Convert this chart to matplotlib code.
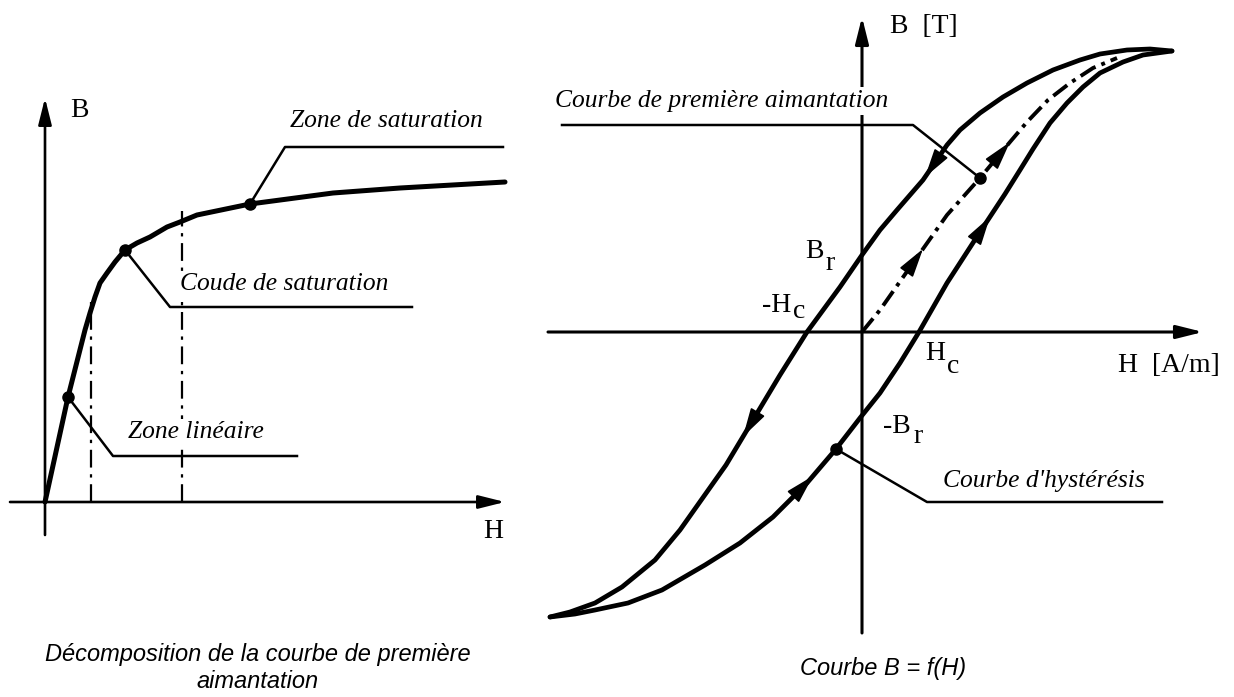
import numpy as np
import matplotlib
matplotlib.use("Agg")
import matplotlib.pyplot as plt

# ---------------- first magnetization curve (left sketch) ----------------
H_first = [0.00, 0.23, 0.40, 0.45, 0.50, 0.55, 0.62, 0.70, 0.80, 0.92,
           1.05, 1.22, 1.35, 1.52, 2.05, 2.88, 3.55, 4.60]
B_first = [0.00, 1.05, 1.72, 1.89, 2.05, 2.19, 2.29, 2.40, 2.52, 2.59,
           2.65, 2.75, 2.80, 2.87, 2.98, 3.09, 3.14, 3.20]
first_dots = [1, 8, 14]          # linear zone, knee, saturation
zone_limits = [0.46, 1.37]       # dash-dot separators

# ---------------- hysteresis loop (right sketch) ----------------
H_down = [3.10, 2.88, 2.65, 2.38, 2.18, 1.91, 1.65, 1.41, 1.18, 0.98, 0.85,
          0.61, 0.35, 0.18, 0.00, -0.22, -0.55, -0.82, -1.09, -1.36, -1.82,
          -2.07, -2.40, -2.67, -2.92, -3.12]
B_down = [2.81, 2.83, 2.82, 2.78, 2.72, 2.62, 2.49, 2.35, 2.19, 2.02, 1.87,
          1.52, 1.22, 1.02, 0.77, 0.45, 0.00, -0.43, -0.88, -1.33, -1.98,
          -2.28, -2.55, -2.71, -2.80, -2.85]
H_up = [-3.12, -2.87, -2.67, -2.34, -2.00, -1.57, -1.22, -0.89, -0.55, -0.26,
        -0.02, 0.18, 0.38, 0.57, 0.85, 1.18, 1.43, 1.58, 1.71, 1.88, 2.05,
        2.21, 2.38, 2.61, 2.81, 3.10]
B_up = [-2.85, -2.82, -2.78, -2.71, -2.58, -2.33, -2.11, -1.85, -1.51, -1.17,
        -0.86, -0.61, -0.31, 0.00, 0.49, 1.00, 1.38, 1.62, 1.83, 2.09, 2.29,
        2.45, 2.59, 2.70, 2.77, 2.81]
H_init = [0.00, 0.18, 0.51, 0.85, 1.18, 1.48, 1.65, 1.86, 2.08, 2.31, 2.55]
B_init = [0.00, 0.22, 0.69, 1.17, 1.54, 1.90, 2.10, 2.32, 2.49, 2.64, 2.74]
init_dot = 4
up_dot = 9

SERIF = "Liberation Serif"
SANS = "Liberation Sans"
LBL = 20      # axis letters
ANN = 18.4    # italic callouts
CAP = 17      # captions
WHITE = dict(facecolor="white", edgecolor="none", pad=1.5)


def axis_arrow(ax, start, tip, lw):
    ax.annotate("", xy=tip, xytext=start,
                arrowprops=dict(arrowstyle="-|>,head_length=1.6,head_width=0.4",
                                mutation_scale=10, lw=lw, color="k",
                                shrinkA=0, shrinkB=0))


def arrow_along(ax, H, B, h_tip, h_tail):
    # arrowhead sitting on a branch, pointing from h_tail towards h_tip
    order = np.argsort(H)
    hs = np.asarray(H)[order]
    bs = np.asarray(B)[order]
    tip = (h_tip, np.interp(h_tip, hs, bs))
    tail = (h_tail, np.interp(h_tail, hs, bs))
    ax.annotate("", xy=tip, xytext=tail,
                arrowprops=dict(arrowstyle="-|>,head_length=1.8,head_width=0.5",
                                mutation_scale=10, lw=1.2, color="k",
                                shrinkA=0, shrinkB=0))


fig = plt.figure(figsize=(12.34, 6.97), dpi=100)

# ---------------- left: decomposition of the first magnetization curve ----------------
axl = fig.add_axes([0, 0, 1, 1])
axl.set_xlim(-0.45, 11.89)
axl.set_ylim(-1.95, 5.02)
axl.axis("off")

axis_arrow(axl, (-0.35, 0), (4.60, 0), 1.9)
axis_arrow(axl, (0, -0.33), (0, 4.04), 1.9)

axl.plot(H_first, B_first, color="k", lw=3.6, solid_capstyle="round",
         solid_joinstyle="round")
for i in first_dots:
    axl.plot(H_first[i], B_first[i], "o", color="k", ms=8)

for h in zone_limits:
    top = np.interp(h, H_first, B_first)
    axl.plot([h, h], [0, top + 0.1], color="k", lw=1.6,
             linestyle=(0, (8, 3, 1.5, 3)))

# callout leaders
axl.plot([2.05, 2.40, 4.58], [2.98, 3.55, 3.55], color="k", lw=1.8)
axl.plot([0.80, 1.25, 3.67], [2.52, 1.95, 1.95], color="k", lw=1.8)
axl.plot([0.23, 0.68, 2.52], [1.05, 0.46, 0.46], color="k", lw=1.8)

axl.text(2.45, 3.75, "Zone de saturation", family=SERIF, style="italic",
         fontsize=ANN, va="baseline", zorder=5, bbox=WHITE)
axl.text(1.35, 2.12, "Coude de saturation", family=SERIF, style="italic",
         fontsize=ANN, va="baseline", zorder=5, bbox=WHITE)
axl.text(0.83, 0.64, "Zone linéaire", family=SERIF, style="italic",
         fontsize=ANN, va="baseline", zorder=5, bbox=WHITE)
axl.text(0.25, 3.85, "B", family=SERIF, fontsize=LBL, va="baseline")
axl.text(4.38, -0.36, "H", family=SERIF, fontsize=LBL, va="baseline")

axl.text(2.13, -1.66, "Décomposition de la courbe de première\naimantation",
         family=SANS, style="italic", fontsize=CAP, ha="center", va="center",
         multialignment="center", linespacing=1.2)

# ---------------- right: hysteresis loop ----------------
axr = fig.add_axes([0, 0, 1, 1])
axr.set_xlim(-8.62, 3.72)
axr.set_ylim(-3.65, 3.32)
axr.axis("off")

axis_arrow(axr, (-3.14, 0), (3.41, 0), 2.2)
axis_arrow(axr, (0, -3.01), (0, 3.15), 2.2)

axr.plot(H_down, B_down, color="k", lw=3.4, solid_capstyle="round",
         solid_joinstyle="round")
axr.plot(H_up, B_up, color="k", lw=3.4, solid_capstyle="round",
         solid_joinstyle="round")
axr.plot(H_init, B_init, color="k", lw=2.8, linestyle=(0, (4.5, 1.6, 1, 1.6)))

axr.plot(H_init[init_dot], B_init[init_dot], "o", color="k", ms=8)
axr.plot(H_up[up_dot], B_up[up_dot], "o", color="k", ms=8)

arrow_along(axr, H_down, B_down, 0.63, 0.80)
arrow_along(axr, H_down, B_down, -1.19, -1.00)
arrow_along(axr, H_up, B_up, -0.49, -0.70)
arrow_along(axr, H_up, B_up, 1.28, 1.10)
arrow_along(axr, H_init, B_init, 0.61, 0.45)
arrow_along(axr, H_init, B_init, 1.48, 1.30)

# callout leaders
axr.plot([-3.00, 0.51, H_init[init_dot]], [2.07, 2.07, B_init[init_dot]],
         color="k", lw=1.8)
axr.plot([H_up[up_dot], 0.65, 3.00], [B_up[up_dot], -1.70, -1.70],
         color="k", lw=1.8)

axr.text(-3.07, 2.25, "Courbe de première aimantation", family=SERIF,
         style="italic", fontsize=ANN, va="baseline", zorder=5,
         bbox=dict(facecolor="white", edgecolor="none", pad=2))
axr.text(0.81, -1.55, "Courbe d'hystérésis", family=SERIF, style="italic",
         fontsize=ANN, va="baseline")

axr.text(0.28, 2.99, "B  [T]", family=SERIF, fontsize=LBL, va="baseline")
axr.text(3.58, -0.40, "H  [A/m]", family=SERIF, fontsize=LBL, va="baseline",
         ha="right")

# remanence / coercive field labels, subscript drawn as a lowered letter
axr.text(-0.57, 0.74, "B", family=SERIF, fontsize=LBL, va="baseline")
axr.text(-0.37, 0.62, "r", family=SERIF, fontsize=LBL, va="baseline")
axr.text(-1.00, 0.20, "-H", family=SERIF, fontsize=LBL, va="baseline")
axr.text(-0.69, 0.14, "c", family=SERIF, fontsize=LBL, va="baseline")
axr.text(0.63, -0.28, "H", family=SERIF, fontsize=LBL, va="baseline")
axr.text(0.85, -0.41, "c", family=SERIF, fontsize=LBL, va="baseline")
axr.text(0.21, -1.01, "-B", family=SERIF, fontsize=LBL, va="baseline")
axr.text(0.51, -1.11, "r", family=SERIF, fontsize=LBL, va="baseline")

axr.text(0.21, -3.36, "Courbe B = f(H)", family=SANS, style="italic",
         fontsize=CAP, ha="center", va="center")

fig.savefig("out.png", dpi=100)
